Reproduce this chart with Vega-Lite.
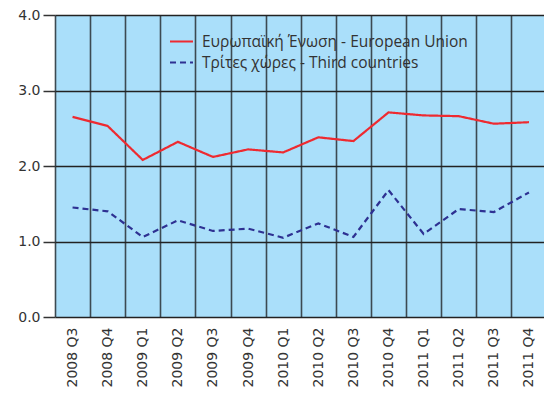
{
  "$schema": "https://vega.github.io/schema/vega-lite/v6.json",
  "width": 489,
  "height": 302,
  "autosize": {"type": "none"},
  "padding": {"left": 55, "top": 15, "right": 0, "bottom": 80},
  "background": "white",
  "config": {
    "view": {"fill": "#aadffa", "stroke": null},
    "axis": {"labelFont": "DejaVu Sans", "labelFontSize": 14, "labelColor": "#333333"}
  },
  "data": {
    "values": [
      {"quarter": "2008 Q3", "series": "Ευρωπαϊκή Ένωση - European Union", "value": 2.65},
      {"quarter": "2008 Q4", "series": "Ευρωπαϊκή Ένωση - European Union", "value": 2.53},
      {"quarter": "2009 Q1", "series": "Ευρωπαϊκή Ένωση - European Union", "value": 2.08},
      {"quarter": "2009 Q2", "series": "Ευρωπαϊκή Ένωση - European Union", "value": 2.32},
      {"quarter": "2009 Q3", "series": "Ευρωπαϊκή Ένωση - European Union", "value": 2.12},
      {"quarter": "2009 Q4", "series": "Ευρωπαϊκή Ένωση - European Union", "value": 2.22},
      {"quarter": "2010 Q1", "series": "Ευρωπαϊκή Ένωση - European Union", "value": 2.18},
      {"quarter": "2010 Q2", "series": "Ευρωπαϊκή Ένωση - European Union", "value": 2.38},
      {"quarter": "2010 Q3", "series": "Ευρωπαϊκή Ένωση - European Union", "value": 2.33},
      {"quarter": "2010 Q4", "series": "Ευρωπαϊκή Ένωση - European Union", "value": 2.71},
      {"quarter": "2011 Q1", "series": "Ευρωπαϊκή Ένωση - European Union", "value": 2.67},
      {"quarter": "2011 Q2", "series": "Ευρωπαϊκή Ένωση - European Union", "value": 2.66},
      {"quarter": "2011 Q3", "series": "Ευρωπαϊκή Ένωση - European Union", "value": 2.56},
      {"quarter": "2011 Q4", "series": "Ευρωπαϊκή Ένωση - European Union", "value": 2.58},
      {"quarter": "2008 Q3", "series": "Τρίτες χώρες - Third countries", "value": 1.45},
      {"quarter": "2008 Q4", "series": "Τρίτες χώρες - Third countries", "value": 1.40},
      {"quarter": "2009 Q1", "series": "Τρίτες χώρες - Third countries", "value": 1.06},
      {"quarter": "2009 Q2", "series": "Τρίτες χώρες - Third countries", "value": 1.28},
      {"quarter": "2009 Q3", "series": "Τρίτες χώρες - Third countries", "value": 1.14},
      {"quarter": "2009 Q4", "series": "Τρίτες χώρες - Third countries", "value": 1.17},
      {"quarter": "2010 Q1", "series": "Τρίτες χώρες - Third countries", "value": 1.05},
      {"quarter": "2010 Q2", "series": "Τρίτες χώρες - Third countries", "value": 1.24},
      {"quarter": "2010 Q3", "series": "Τρίτες χώρες - Third countries", "value": 1.06},
      {"quarter": "2010 Q4", "series": "Τρίτες χώρες - Third countries", "value": 1.68},
      {"quarter": "2011 Q1", "series": "Τρίτες χώρες - Third countries", "value": 1.10},
      {"quarter": "2011 Q2", "series": "Τρίτες χώρες - Third countries", "value": 1.43},
      {"quarter": "2011 Q3", "series": "Τρίτες χώρες - Third countries", "value": 1.39},
      {"quarter": "2011 Q4", "series": "Τρίτες χώρες - Third countries", "value": 1.65}
    ]
  },
  "mark": {"type": "line", "strokeWidth": 2.2},
  "encoding": {
    "x": {
      "field": "quarter",
      "type": "ordinal",
      "sort": null,
      "bandPosition": 0.5,
      "scale": {"type": "band", "paddingInner": 0, "paddingOuter": 0, "range": [0, 491.5]},
      "axis": {
        "title": null,
        "labelAngle": -90,
        "labelPadding": 10,
        "grid": true,
        "tickBand": "extent",
        "gridColor": "#3c4a52",
        "gridWidth": 1.6,
        "ticks": false,
        "domain": false
      }
    },
    "y": {
      "field": "value",
      "type": "quantitative",
      "scale": {"domain": [0, 4]},
      "axis": {
        "title": null,
        "values": [0, 1, 2, 3, 4],
        "format": ".1f",
        "gridColor": "#222222",
        "gridWidth": 1.5,
        "domain": false,
        "tickColor": "#333333",
        "tickWidth": 1.5,
        "tickSize": 12,
        "labelPadding": 3
      }
    },
    "color": {
      "field": "series",
      "type": "nominal",
      "sort": null,
      "scale": {
        "domain": ["Ευρωπαϊκή Ένωση - European Union", "Τρίτες χώρες - Third countries"],
        "range": ["#ee2a30", "#2e3192"]
      },
      "legend": {
        "title": null,
        "orient": "none",
        "legendX": 114,
        "legendY": 14,
        "padding": 0,
        "symbolType": "stroke",
        "symbolSize": 529,
        "symbolStrokeWidth": 2,
        "labelFont": "Open Sans",
        "labelFontSize": 15.5,
        "labelColor": "#333333",
        "labelOffset": 8,
        "labelLimit": 400,
        "rowPadding": 0
      }
    },
    "strokeDash": {
      "field": "series",
      "type": "nominal",
      "sort": null,
      "scale": {
        "domain": ["Ευρωπαϊκή Ένωση - European Union", "Τρίτες χώρες - Third countries"],
        "range": [[1, 0], [6, 4]]
      },
      "legend": {
        "title": null,
        "orient": "none",
        "legendX": 114,
        "legendY": 14,
        "padding": 0,
        "symbolType": "stroke",
        "symbolSize": 529,
        "symbolStrokeWidth": 2,
        "labelFont": "Open Sans",
        "labelFontSize": 15.5,
        "labelColor": "#333333",
        "labelOffset": 8,
        "labelLimit": 400,
        "rowPadding": 0
      }
    }
  }
}
